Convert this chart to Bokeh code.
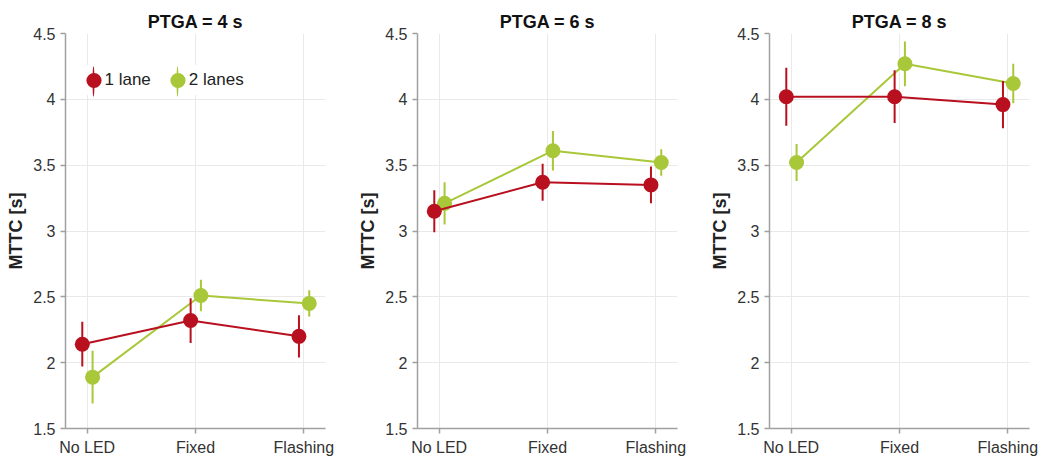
import numpy as np
from bokeh.plotting import figure
from bokeh.layouts import row
from bokeh.models import ColumnDataSource, FixedTicker, Legend, LegendItem, Range1d
from bokeh.embed import file_html
from bokeh.resources import INLINE

# ---------------- data ----------------
categories = ["No LED", "Fixed", "Flashing"]
panel_titles = ["PTGA = 4 s", "PTGA = 6 s", "PTGA = 8 s"]
series_names = ["1 lane", "2 lanes"]

lane1_mean_4s = [2.14, 2.32, 2.20]
lane1_err_4s = [0.17, 0.17, 0.16]
lane2_mean_4s = [1.89, 2.51, 2.45]
lane2_err_4s = [0.20, 0.12, 0.10]

lane1_mean_6s = [3.15, 3.37, 3.35]
lane1_err_6s = [0.16, 0.14, 0.14]
lane2_mean_6s = [3.21, 3.61, 3.52]
lane2_err_6s = [0.16, 0.15, 0.10]

lane1_mean_8s = [4.02, 4.02, 3.96]
lane1_err_8s = [0.22, 0.20, 0.18]
lane2_mean_8s = [3.52, 4.27, 4.12]
lane2_err_8s = [0.14, 0.17, 0.15]

y_ticks = [1.5, 2, 2.5, 3, 3.5, 4, 4.5]
y_tick_labels = ["1.5", "2", "2.5", "3", "3.5", "4", "4.5"]
y_axis_label = "MTTC [s]"

# ---------------- style ----------------
RED = "#b8101f"
GREEN = "#a8c83a"
FONT = "Liberation Sans"
AXIS_COLOR = "#a0a0a0"
GRID_COLOR = "#e9e9e9"
OFFSETS = {"1 lane": -0.045, "2 lanes": 0.05}
COLORS = {"1 lane": RED, "2 lanes": GREEN}

FIG_H = 461
BORDER_L = 65
BORDER_T = 33
BORDER_B = 33


def draw_series(p, name, means, errs):
    x = np.arange(len(categories)) + OFFSETS[name]
    m = np.array(means)
    e = np.array(errs)
    src = ColumnDataSource(dict(x=x, y=m, lo=m - e, hi=m + e,
                                none=np.full(len(categories), np.nan)))
    c = COLORS[name]
    p.line("x", "y", source=src, line_color=c, line_width=2)
    p.segment(x0="x", y0="lo", x1="x", y1="hi", source=src, line_color=c, line_width=2)
    p.scatter("x", "y", source=src, marker="circle", size=15,
              fill_color=c, line_color=c, line_width=0)
    # legend-only proxies (no position -> nothing drawn in the plot area)
    rbar = p.ellipse(x="none", y="none", width=2, height=30, width_units="screen",
                     height_units="screen", source=src, fill_color=c, line_color=None)
    rdot = p.ellipse(x="none", y="none", width=15, height=15, width_units="screen",
                     height_units="screen", source=src, fill_color=c, line_color=None)
    return rbar, rdot


def make_panel(title, l1m, l1e, l2m, l2e, width, right_border, legend=False):
    p = figure(width=width, height=FIG_H,
               x_range=Range1d(-0.2, 2.2), y_range=Range1d(1.5, 4.5),
               output_backend="svg", toolbar_location=None,
               min_border_left=BORDER_L, min_border_right=right_border,
               min_border_top=BORDER_T, min_border_bottom=BORDER_B,
               background_fill_color="white", border_fill_color="white")
    p.outline_line_color = None

    p.title.text = title
    p.title.align = "center"
    p.title.text_font = FONT
    p.title.text_font_size = "18px"
    p.title.text_font_style = "bold"
    p.title.text_color = "#111111"
    p.title.standoff = 3

    xt = list(range(len(categories)))
    p.xaxis.ticker = FixedTicker(ticks=xt)
    p.xgrid.ticker = FixedTicker(ticks=xt)
    p.xaxis.major_label_overrides = {i: c for i, c in enumerate(categories)}
    p.yaxis.ticker = FixedTicker(ticks=y_ticks)
    p.ygrid.ticker = FixedTicker(ticks=y_ticks)
    p.yaxis.major_label_overrides = dict(zip(y_ticks, y_tick_labels))

    for ax in (p.xaxis[0], p.yaxis[0]):
        ax.axis_line_color = AXIS_COLOR
        ax.axis_line_width = 1.5
        ax.major_tick_line_color = AXIS_COLOR
        ax.major_tick_line_width = 1.5
        ax.major_tick_out = 5
        ax.major_tick_in = 0
        ax.minor_tick_line_color = None
        ax.major_label_text_font = FONT
        ax.major_label_text_font_size = "16px"
        ax.major_label_text_color = "#333333"
        ax.major_label_standoff = 5
    p.yaxis.axis_label = y_axis_label
    p.yaxis.axis_label_text_font = FONT
    p.yaxis.axis_label_text_font_size = "18px"
    p.yaxis.axis_label_text_font_style = "bold"
    p.yaxis.axis_label_text_color = "#222222"
    p.yaxis.axis_label_standoff = 4

    p.grid.grid_line_color = GRID_COLOR
    p.grid.grid_line_width = 1

    r2 = draw_series(p, "2 lanes", l2m, l2e)
    r1 = draw_series(p, "1 lane", l1m, l1e)

    if legend:
        frame_h = FIG_H - BORDER_T - BORDER_B
        # dots + labels (white box hides the grid behind it)
        lg = Legend(items=[LegendItem(label=series_names[0], renderers=[r1[1]]),
                           LegendItem(label=series_names[1], renderers=[r2[1]])],
                    orientation="horizontal", location=(18.5, frame_h - 62),
                    glyph_width=19, glyph_height=30, padding=8, spacing=17,
                    label_standoff=2, margin=0,
                    label_text_font=FONT, label_text_font_size="17px",
                    label_text_color="#222222",
                    background_fill_color="white", background_fill_alpha=1.0,
                    border_line_color=None)
        p.add_layout(lg)
        # vertical error-bar strokes through the legend dots
        lg_bars = Legend(items=[LegendItem(label=" ", renderers=[r1[0]]),
                                LegendItem(label=" ", renderers=[r2[0]])],
                         orientation="horizontal", location=(9, frame_h - 67),
                         glyph_width=38, glyph_height=38, padding=0, spacing=0,
                         label_standoff=0, label_width=46, margin=0,
                         label_text_font_size="1px",
                         background_fill_alpha=0.0, border_line_color=None)
        p.add_layout(lg_bars)
    return p


p1 = make_panel(panel_titles[0], lane1_mean_4s, lane1_err_4s, lane2_mean_4s, lane2_err_4s,
                352, 27, legend=True)
p2 = make_panel(panel_titles[1], lane1_mean_6s, lane1_err_6s, lane2_mean_6s, lane2_err_6s,
                352, 27)
p3 = make_panel(panel_titles[2], lane1_mean_8s, lane1_err_8s, lane2_mean_8s, lane2_err_8s,
                338, 13)

layout = row(p1, p2, p3)
open("out.html", "w").write(file_html(layout, INLINE))
